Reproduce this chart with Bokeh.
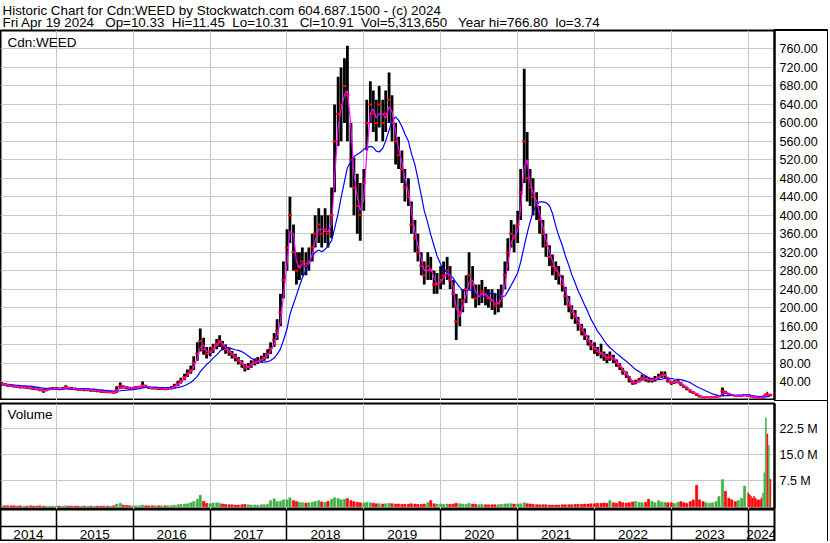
import pandas as pd
from bokeh.plotting import figure
from bokeh.layouts import column
from bokeh.models import (Range1d, FixedTicker, NumeralTickFormatter, Label, Title, Span, ColumnDataSource)
from bokeh.embed import file_html
from bokeh.resources import INLINE
from bokeh.core.properties import value

FONT = "Liberation Sans"
SP3 = " \u00a0 "   # three visible spaces
SP2 = "\u00a0 "    # two visible spaces

# ---------------- texts ----------------
title_line1 = "Historic Chart for Cdn:WEED by Stockwatch.com 604.687.1500 - (c) 2024"
title_line2 = ("Fri Apr 19 2024" + SP3 + "Op=10.33" + SP2 + "Hi=11.45" + SP2 + "Lo=10.31" + SP3 +
               "Cl=10.91" + SP2 + "Vol=5,313,650" + SP3 + "Year hi=766.80" + SP2 + "lo=3.74")
symbol_label = "Cdn:WEED"
volume_label = "Volume"

price_ticks = [40, 80, 120, 160, 200, 240, 280, 320, 360, 400, 440, 480, 520, 560, 600, 640, 680, 720, 760]
volume_ticks = [7.5, 15.0, 22.5]
volume_tick_labels = ["7.5 M", "15.0 M", "22.5 M"]
year_labels = ["2014", "2015", "2016", "2017", "2018", "2019", "2020", "2021", "2022", "2023", "2024"]

# ---------------- data ----------------
# semi-monthly periods 2014-04-15 .. 2023-12-15, then weekly periods 2024-01-01 .. 2024-04-15
semi_monthly_first, semi_monthly_last = "2014-04-15", "2023-12-15"
weekly_first, weekly_last = "2024-01-01", "2024-04-15"

high = [
    # 2014 (Apr 15 - Dec 15)
    39, 37, 35, 34, 33, 32, 31, 31, 30, 29, 28, 27, 25, 24, 25, 27, 28,
    # 2015
    28, 27, 28, 32, 29, 28, 27, 26, 26, 25, 25, 24, 24, 23, 22, 21, 20, 20, 19, 30, 38, 32, 30, 29,
    # 2016
    29, 30, 31, 40, 33, 30, 29, 29, 28, 28, 27, 28, 30, 35, 42, 48, 57, 66, 75, 95, 125, 155, 135, 115,
    # 2017
    115, 122, 132, 140, 128, 120, 112, 106, 100, 93, 86, 78, 80, 86, 90, 93, 96, 102, 110, 125, 145, 175, 230, 300,
    # 2018
    370, 440, 380, 320, 320, 330, 320, 330, 360, 400, 415, 400, 415, 400, 460, 640, 700, 720, 740, 767, 600, 525, 490, 470,
    # 2019
    500, 650, 690, 670, 650, 680, 650, 670, 709, 660, 600, 570, 540, 500, 480, 430, 390, 360, 320, 300, 320, 310, 280, 275,
    # 2020
    290, 300, 310, 290, 260, 230, 220, 240, 270, 320, 290, 250, 250, 260, 245, 240, 240, 230, 240, 250, 300, 350, 390, 380,
    # 2021
    410, 500, 717, 580, 500, 480, 450, 420, 390, 360, 335, 315, 300, 290, 270, 245, 225, 205, 195, 180, 165, 155, 140, 130,
    # 2022
    125, 115, 122, 105, 100, 105, 98, 88, 80, 70, 62, 52, 42, 44, 48, 55, 52, 48, 48, 52, 57, 62, 62, 50,
    # 2023
    41, 43, 44, 39, 33, 29, 23, 19, 15, 10, 7, 7, 7, 7, 8, 9, 27, 20, 15, 13, 10, 10, 10, 13,
    # 2024 weekly (Jan 1 - Apr 15)
    10, 9.5, 9, 8.5, 8, 7.5, 7, 6.5, 6, 5.5, 6.5, 9, 14, 18, 13, 11.45,
]
low = [
    31, 31, 29, 28, 27, 26, 25, 25, 24, 23, 22, 21, 19, 16, 19, 21, 22,
    22, 21, 22, 25, 23, 22, 21, 20, 20, 19, 19, 18, 18, 17, 16, 15, 15, 15, 14, 16, 24, 25, 24, 23,
    23, 24, 25, 27, 26, 24, 23, 23, 22, 22, 21, 22, 23, 25, 30, 36, 43, 50, 57, 65, 85, 105, 98, 90,
    95, 102, 110, 115, 108, 100, 96, 90, 84, 77, 70, 62, 65, 70, 75, 78, 81, 85, 90, 100, 115, 130, 160, 220,
    280, 340, 280, 250, 260, 270, 270, 280, 300, 330, 340, 330, 340, 330, 350, 450, 550, 560, 600, 560, 460, 400, 360, 345,
    410, 540, 600, 580, 560, 590, 560, 580, 600, 560, 510, 500, 470, 430, 420, 360, 320, 300, 270, 250, 260, 260, 230, 230,
    240, 250, 260, 240, 200, 130, 160, 190, 210, 240, 220, 200, 205, 210, 205, 200, 195, 185, 190, 200, 240, 280, 330, 320,
    340, 390, 470, 430, 420, 400, 390, 360, 330, 310, 290, 270, 260, 250, 235, 205, 190, 175, 165, 150, 140, 130, 118, 108,
    100, 95, 90, 85, 80, 85, 80, 72, 65, 55, 48, 38, 33, 34, 38, 42, 40, 38, 38, 40, 44, 48, 48, 38,
    33, 35, 36, 31, 26, 21, 16, 13, 9, 6, 5, 5, 5, 5, 6, 6, 8, 13, 11, 9, 8, 8, 8, 8,
    8, 8, 7.5, 7, 6.5, 6, 5.5, 5, 4.5, 3.74, 4.5, 6, 8, 10, 10.5, 10.31,
]
close = [
    35, 34, 32, 31, 30, 29, 28, 28, 27, 26, 25, 24, 22, 20, 22, 24, 25,
    25, 24, 25, 28, 26, 25, 24, 23, 23, 22, 22, 21, 21, 20, 19, 18, 17, 17, 16, 22, 30, 28, 27, 26,
    26, 27, 28, 32, 29, 27, 26, 26, 25, 25, 24, 25, 26, 30, 36, 42, 50, 58, 64, 80, 100, 128, 110, 100,
    105, 112, 122, 128, 118, 110, 104, 98, 92, 85, 78, 70, 72, 78, 82, 85, 88, 92, 100, 112, 130, 150, 190, 260,
    330, 400, 320, 280, 290, 300, 290, 300, 330, 360, 380, 360, 370, 360, 400, 560, 620, 640, 680, 660, 520, 460, 420, 400,
    470, 600, 640, 620, 600, 640, 600, 620, 650, 600, 560, 530, 500, 460, 440, 380, 350, 320, 290, 270, 290, 280, 250, 250,
    260, 270, 280, 260, 230, 170, 190, 215, 240, 270, 250, 220, 226, 235, 225, 220, 215, 205, 210, 226, 270, 320, 360, 350,
    380, 450, 560, 480, 460, 440, 420, 390, 360, 335, 310, 290, 280, 270, 250, 225, 205, 190, 180, 165, 150, 140, 128, 118,
    111, 105, 100, 96, 89, 95, 88, 80, 72, 62, 55, 45, 37, 38, 43, 48, 46, 43, 43, 46, 50, 54, 55, 42,
    37, 39, 40, 35, 29, 25, 19, 16, 12, 8, 6, 6, 6, 6, 7, 8, 20, 16, 13, 11, 9, 9, 9, 11,
    9, 8.5, 8, 7.5, 7, 6.5, 6, 5.5, 5, 4.5, 6, 8.5, 12, 11, 12, 10.91,
]
volume_m = [
    0.4, 0.3, 0.3, 0.3, 0.3, 0.2, 0.3, 0.2, 0.2, 0.3, 0.2, 0.2, 0.3, 0.2, 0.2, 0.2, 0.2,
    0.2, 0.2, 0.2, 0.3, 0.2, 0.2, 0.2, 0.2, 0.2, 0.2, 0.2, 0.2, 0.2, 0.2, 0.2, 0.2, 0.2, 0.2, 0.3, 0.8, 1.0, 0.5, 0.4, 0.3,
    0.3, 0.3, 0.3, 0.5, 0.3, 0.3, 0.3, 0.3, 0.3, 0.3, 0.3, 0.3, 0.4, 0.5, 0.6, 0.7, 0.8, 0.9, 1.2, 1.5, 2.2, 3.3, 1.6, 1.0,
    0.9, 1.1, 1.2, 1.0, 0.8, 0.7, 0.6, 0.6, 0.5, 0.5, 0.6, 0.7, 0.6, 0.5, 0.5, 0.5, 0.6, 0.6, 0.7, 1.8, 2.3, 1.5, 1.6, 2.0,
    2.0, 2.6, 1.8, 1.5, 1.3, 1.2, 1.1, 1.2, 1.3, 1.5, 1.8, 1.4, 1.3, 1.6, 2.2, 2.6, 2.4, 2.0, 2.2, 2.4, 1.8, 1.5, 1.3, 1.2,
    1.1, 1.3, 1.2, 1.0, 0.9, 0.9, 0.8, 0.9, 1.0, 0.9, 0.8, 0.8, 0.7, 0.7, 0.8, 0.9, 0.8, 0.7, 0.7, 0.8, 1.2, 1.8, 0.9, 0.8,
    0.8, 0.7, 0.8, 0.7, 0.8, 1.0, 0.9, 0.8, 0.7, 1.0, 0.8, 0.7, 0.6, 0.7, 0.6, 0.6, 0.6, 0.6, 0.6, 0.7, 0.8, 0.9, 0.9, 0.8,
    0.8, 0.9, 1.2, 0.9, 0.8, 0.7, 0.6, 0.6, 0.6, 0.6, 0.5, 0.5, 0.5, 0.5, 0.6, 0.6, 0.6, 0.6, 0.7, 0.7, 0.7, 0.8, 0.8, 0.9,
    0.9, 1.0, 1.0, 1.1, 1.0, 1.8, 1.2, 1.0, 1.5, 1.2, 1.1, 1.2, 1.4, 1.6, 1.3, 1.2, 1.3, 2.2, 1.5, 1.2, 1.8, 1.4, 1.3, 1.2,
    1.2, 1.0, 1.3, 1.5, 1.2, 1.0, 1.5, 2.0, 6.2, 2.0, 1.5, 1.2, 1.0, 1.2, 1.5, 3.0, 7.9, 4.5, 2.5, 2.0, 1.5, 1.8, 2.5, 6.0,
    4.0, 3.5, 3.0, 2.5, 3.0, 2.5, 2.0, 2.0, 2.0, 2.5, 4.0, 9.8, 25.7, 21.0, 17.7, 8.0,
]

# moving-average windows (in periods)
short_ma_window = 2
long_ma_window = 10

# ---------------- derived ----------------
dates = pd.date_range(semi_monthly_first, semi_monthly_last, freq="SMS").append(
    pd.date_range(weekly_first, weekly_last, freq="W-MON"))
df = pd.DataFrame({"date": dates, "high": high, "low": low, "close": close, "vol": volume_m})
df["ma_short"] = df["close"].rolling(short_ma_window, min_periods=1).mean()
df["ma_long"] = df["close"].rolling(long_ma_window, min_periods=1).mean()
up = df["close"].diff().fillna(0) >= 0
df["vcolor"] = ["#3cb043" if u else "#ff0000" for u in up]
df["bar_w"] = [11 * 86400000 if d.year < 2024 else 5 * 86400000 for d in df["date"]]
df["seg_w"] = [2.8 if d.year < 2024 else 1.4 for d in df["date"]]
src = ColumnDataSource(df)

x_start = pd.Timestamp("2014-04-11")
x_end = pd.Timestamp("2024-05-05")
xr = Range1d(start=x_start, end=x_end)

year_starts = [pd.Timestamp(f"{y}-01-01") for y in range(2015, 2025)]
year_ticks = [t.value // 10**6 for t in year_starts]

GRID = "#c8c8c8"
FRAME_W = 774
RIGHT = 54


def style_right_axis(ax, size="12.5px"):
    ax.axis_line_color = "black"
    ax.axis_line_width = 2
    ax.major_tick_out = 0
    ax.major_tick_in = 0
    ax.minor_tick_out = 0
    ax.minor_tick_in = 0
    ax.major_label_standoff = 5
    ax.major_label_text_font = FONT
    ax.major_label_text_font_size = size
    ax.major_label_text_color = "black"


# ---------------- price panel ----------------
p = figure(frame_width=FRAME_W, frame_height=370, x_range=xr, y_range=Range1d(-1, 800),
           x_axis_type="datetime", x_axis_location=None, y_axis_location="right",
           output_backend="svg", toolbar_location=None, title=None, border_fill_color=None,
           min_border_left=0, min_border_right=RIGHT, min_border_top=0, min_border_bottom=0)
p.add_layout(Title(text=title_line1 + "\n" + title_line2, align="left", text_font=FONT,
                   text_font_size="13.4px", text_font_style="normal", text_color="black",
                   standoff=0, offset=2, text_line_height=0.86), "above")
p.outline_line_color = "black"
p.outline_line_width = 2
p.yaxis.ticker = FixedTicker(ticks=price_ticks)
p.yaxis.formatter = NumeralTickFormatter(format="0.00")
style_right_axis(p.yaxis[0])
p.ygrid.grid_line_color = GRID
p.xgrid.ticker = FixedTicker(ticks=year_ticks)
p.xgrid.grid_line_color = GRID

p.segment(x0="date", y0="low", x1="date", y1="high", source=src, line_color="black", line_width="seg_w")
p.scatter(x="date", y="close", source=src, marker="dash", size=4, line_color="red", line_width=2)
p.line(x="date", y="ma_long", source=src, line_color="#0000ff", line_width=1.2)
p.line(x="date", y="ma_short", source=src, line_color="#ff00ff", line_width=1.2)
p.add_layout(Label(x=7, y=366, x_units="screen", y_units="screen", text=symbol_label,
                   text_font=FONT, text_font_size="13.5px", text_baseline="top", text_color="black"))

# ---------------- volume panel ----------------
v = figure(frame_width=FRAME_W, frame_height=106, x_range=xr, y_range=Range1d(-0.78, 29.8),
           x_axis_type="datetime", x_axis_location=None, y_axis_location="right",
           output_backend="svg", toolbar_location=None, title=None, border_fill_color=None,
           min_border_left=0, min_border_right=RIGHT, min_border_top=3, min_border_bottom=0)
v.outline_line_color = "black"
v.outline_line_width = 2
v.yaxis.ticker = FixedTicker(ticks=volume_ticks)
v.yaxis.major_label_overrides = {t: s for t, s in zip(volume_ticks, volume_tick_labels)}
style_right_axis(v.yaxis[0])
v.ygrid.grid_line_color = GRID
v.xgrid.ticker = FixedTicker(ticks=year_ticks)
v.xgrid.grid_line_color = GRID
v.vbar(x="date", top="vol", bottom=0, width="bar_w", source=src,
       fill_color="vcolor", line_color="vcolor", line_width=0.5)
v.add_layout(Label(x=7, y=103, x_units="screen", y_units="screen", text=volume_label,
                   text_font=FONT, text_font_size="13.5px", text_baseline="top", text_color="black"))

# ---------------- year strip ----------------
s = figure(frame_width=FRAME_W, frame_height=32, x_range=xr, y_range=Range1d(0, 1),
           x_axis_type="datetime", x_axis_location=None, y_axis_location=None,
           output_backend="svg", toolbar_location=None, title=None, border_fill_color=None,
           min_border_left=0, min_border_right=RIGHT, min_border_top=0, min_border_bottom=0)
s.outline_line_color = "black"
s.outline_line_width = 2
s.xgrid.ticker = FixedTicker(ticks=year_ticks)
s.xgrid.grid_line_color = "black"
s.xgrid.grid_line_width = 1.5
s.ygrid.visible = False
s.add_layout(Span(location=0.47, dimension="width", line_color="black", line_width=1.5))
mids = []
for y in year_labels:
    lo = max(pd.Timestamp(f"{y}-01-01"), x_start)
    hi = min(pd.Timestamp(f"{int(y) + 1}-01-01"), x_end)
    mids.append(lo + (hi - lo) / 2)
s.text(x=mids, y=[0.23] * len(mids), text=year_labels, text_align="center", text_baseline="middle",
       text_font=value(FONT), text_font_size="13.5px", text_color="black")

layout = column(p, v, s, spacing=0)
# outer frame lines around the right-hand label column
layout.styles = {
    "background-image": "linear-gradient(#000,#000), linear-gradient(#000,#000), linear-gradient(#000,#000)",
    "background-size": "1px 511px, 54px 2px, 54px 1px",
    "background-position": "827px 30px, 774px 29px, 774px 400px",
    "background-repeat": "no-repeat",
}
open("out.html", "w").write(file_html(layout, INLINE))
